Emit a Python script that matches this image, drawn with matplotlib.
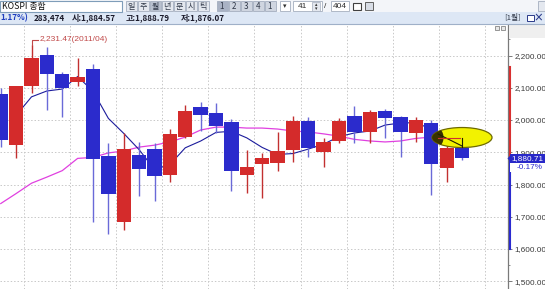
import matplotlib
matplotlib.use("Agg")
import matplotlib.pyplot as plt
import matplotlib.transforms as mtransforms
from matplotlib.patches import Rectangle, Ellipse, Polygon
from matplotlib.ticker import FuncFormatter, MultipleLocator
from matplotlib import font_manager
import numpy as np

# ---------------- data (KOSPI monthly candles, 2011/02 .. 2013/08) ----------------
months = ["2011/02", "2011/03", "2011/04", "2011/05", "2011/06", "2011/07", "2011/08",
          "2011/09", "2011/10", "2011/11", "2011/12", "2012/01", "2012/02", "2012/03",
          "2012/04", "2012/05", "2012/06", "2012/07", "2012/08", "2012/09", "2012/10",
          "2012/11", "2012/12", "2013/01", "2013/02", "2013/03", "2013/04", "2013/05",
          "2013/06", "2013/07", "2013/08"]
opens = [2081, 1922, 2106, 2201, 2143, 2118, 2158, 1888, 1685, 1892, 1910, 1830, 1947,
         2040, 2022, 1994, 1830, 1864, 1867, 1907, 1997, 1901, 1935, 2012, 1963, 2028,
         2009, 1960, 1991, 1851, 1913]
highs = [2098, 2107, 2231.47, 2227, 2149, 2192, 2174, 1929, 1959, 1932, 1929, 1972, 2046,
         2056, 2053, 2003, 1907, 1898, 1963, 2012, 2009, 1944, 2006, 2043, 2031, 2034,
         2012, 2009, 2000, 1938, 1975]
lows = [1915, 1882, 2084, 2031, 2009, 2105, 1684, 1647, 1658, 1764, 1749, 1808, 1945,
        1966, 1960, 1780, 1774, 1758, 1842, 1870, 1885, 1854, 1929, 1929, 1929, 1944,
        1885, 1932, 1767, 1809, 1876]
closes = [1939, 2107, 2192, 2142, 2100, 2133, 1880, 1770, 1909, 1848, 1826, 1956, 2029,
          2014, 1982, 1843, 1854, 1882, 1905, 1996, 1912, 1932, 1997, 1962, 2026, 2005,
          1964, 2001, 1863, 1914, 1880.71]
ma_short = [np.nan, 2014.4, 2071.8, 2090.0, 2096.0, 2134.8, 2089.4, 2005.0, 1958.4, 1908.0,
            1846.6, 1861.8, 1913.8, 1934.8, 1961.6, 1965.0, 1944.6, 1915.0, 1893.2, 1896.0,
            1909.8, 1925.4, 1948.4, 1959.8, 1965.8, 1984.4, 1990.8, 1991.6, 1971.8, 1949.4,
            1924.6]
ma_long = [1741, 1772, 1804, 1823, 1843, 1881, 1884, 1898, 1904, 1916, 1922, 1932, 1947,
           1969, 1978, 1978, 1975, 1975, 1972, 1966, 1963, 1957, 1950, 1940, 1935, 1932,
           1935, 1943, 1947, 1946, 1944]
y_ticks = [1500, 1600, 1700, 1800, 1900, 2000, 2100, 2200]
peak_label = "2,231.47(2011/04)"
last_price = 1880.71
last_change = "-0.17%"
range_top = 2165
range_bottom = 1600

header_code = "KOSPI 종합"
period_buttons = ["일", "주", "월", "년", "분", "시", "틱"]
number_buttons = ["1", "2", "3", "4", "1"]
info_change = "1.17%)"
info_volume = "283,474"
info_open = "시:1,884.57"
info_high = "고:1,888.79"
info_low = "저:1,876.07"
page_now = "41"
page_total = "404"

# ---------------- fonts ----------------
def pick(names):
    for nm in names:
        try:
            font_manager.findfont(font_manager.FontProperties(family=nm), fallback_to_default=False)
            return nm
        except Exception:
            pass
    return "DejaVu Sans"

NARROW = pick(["Liberation Sans Narrow", "Liberation Sans", "DejaVu Sans"])
KR = ["Noto Sans CJK KR", "DejaVu Sans"]
AX_FS = 5.9

# ---------------- figure ----------------
W, H = 545, 289
TOP, RIGHT = 24, 508
fig = plt.figure(figsize=(W / 100, H / 100), dpi=100)
fig.patch.set_facecolor("white")

ax = fig.add_axes([0, 0, RIGHT / W, (H - TOP) / H])
ax.set_facecolor("white")
n = len(closes)
idx = np.arange(n)
ax.set_xlim(-0.049, 32.99)
ax.set_ylim(1476, 2297.7)

# grid
ax.set_yticks(y_ticks)
ax.yaxis.set_minor_locator(MultipleLocator(50))
ax.set_xticks(np.arange(1.5, 32.6, 3))
ax.tick_params(axis="x", length=0, labelbottom=False)
ax.grid(True, which="major", color="#c8c8c8", linestyle=(0, (1.5, 2)), linewidth=0.7, zorder=0)
ax.set_axisbelow(True)

# right axis
ax.yaxis.tick_right()
for s in ["left", "top", "bottom"]:
    ax.spines[s].set_visible(False)
ax.spines["right"].set_color("#7a7a7a")
ax.spines["right"].set_linewidth(0.9)
ax.tick_params(axis="y", which="major", length=3, width=0.7, color="#7a7a7a", pad=1.5,
               labelsize=AX_FS, labelcolor="#3a3a3a")
ax.tick_params(axis="y", which="minor", length=1.5, width=0.6, color="#7a7a7a")
ax.yaxis.set_major_formatter(FuncFormatter(lambda v, _: f"{v:,.2f}"))
for lab in ax.get_yticklabels():
    lab.set_family(NARROW)

# moving averages (below candles)
ax.plot(idx, ma_long, color="#e040e0", linewidth=0.9, zorder=2)
ax.plot(idx, ma_short, color="#1c1c9c", linewidth=0.8, zorder=2)

# candles
o = np.array(opens, float)
c = np.array(closes, float)
hi = np.array(highs, float)
lo = np.array(lows, float)
up = c >= o
body_col = np.where(up, "#d42b2b", "#2b2bcc")
wick_col = np.where(up, "#c23030", "#6a6ad8")
ax.vlines(idx, lo, hi, colors=wick_col, linewidth=1.0, zorder=3)
ax.bar(idx, np.maximum(np.abs(c - o), 4), bottom=np.minimum(o, c), width=0.93,
       color=body_col, linewidth=0, zorder=4)

# peak annotation
ipk = int(np.argmax(hi))
ylab = hi[ipk] + 18
ax.plot([idx[ipk], idx[ipk], idx[ipk] + 0.45], [hi[ipk], ylab, ylab], color="#c04848",
        linewidth=0.8, zorder=5)
ax.text(idx[ipk] + 0.55, ylab, peak_label, color="#c04848", fontsize=6.0, family=NARROW,
        va="center", ha="left", zorder=5)

# yellow ellipse highlight on the last candle
last = n - 1
ell = Ellipse((idx[last], 1945.7), width=3.9, height=62, facecolor="#f2f200",
              edgecolor="#6e6a00", linewidth=0.9, zorder=10)
ax.add_patch(ell)
dark = Ellipse((idx[last] - 1.85, 1945.7), width=1.3, height=70, facecolor="#3a3300",
               edgecolor="none", zorder=10.5)
ax.add_patch(dark)
dark.set_clip_path(ell)
tri_x = [idx[last] - 1.56, idx[last], idx[last]]
tri_y = [1956.6, 1919.4, 1944.2]
ax.plot(tri_x[:2], tri_y[:2], color="#202000", linewidth=0.8, zorder=11)
ax.plot([tri_x[1], tri_x[2]], [1916.3, tri_y[2]], color="#202000", linewidth=0.8, zorder=11)
ax.plot([tri_x[0], idx[last] - 0.13], [tri_y[2], tri_y[2]], color="#d03030", linewidth=0.8,
        zorder=11)

# right-axis range bar and last-price tag
trans = mtransforms.blended_transform_factory(ax.transAxes, ax.transData)
px = 1.0 / RIGHT
ax.plot([1 + 1.5 * px] * 2, [range_top, last_price], color="#d83030", linewidth=1.5,
        transform=trans, clip_on=False, zorder=6)
ax.plot([1 + 1.5 * px] * 2, [last_price, range_bottom], color="#2a2ad0", linewidth=1.5,
        transform=trans, clip_on=False, zorder=6)
ax.add_patch(Rectangle((1 + 2 * px, last_price - 13.5), 40 * px, 27, transform=trans,
                       facecolor="#2828c8", edgecolor="none", clip_on=False, zorder=20))
ax.add_patch(Polygon([(1 - 0.5 * px, last_price), (1 + 2.5 * px, last_price + 10),
                      (1 + 2.5 * px, last_price - 10)], closed=True, transform=trans,
                     facecolor="#2828c8", edgecolor="none", clip_on=False, zorder=20))
ax.add_patch(Rectangle((1 + 2 * px, last_price - 41), 40 * px, 27, transform=trans,
                       facecolor="white", edgecolor="none", clip_on=False, zorder=19))
ax.text(1 + 3 * px, last_price, f"{last_price:,.2f}", transform=trans, color="white",
        fontsize=AX_FS, family=NARROW, va="center", ha="left", zorder=21, clip_on=False)
ax.text(1 + 35 * px, last_price - 27, last_change, transform=trans, color="#2a2ad0",
        fontsize=AX_FS, family=NARROW, va="center", ha="right", zorder=21, clip_on=False)

# ---------------- header / window chrome overlay ----------------
ov = fig.add_axes([0, 0, 1, 1], zorder=5)
ov.set_xlim(0, W)
ov.set_ylim(H, 0)
ov.axis("off")

ov.add_patch(Rectangle((0, 0), W, 12, facecolor="#f3f5f9", edgecolor="none"))
ov.add_patch(Rectangle((0, 12), W, 11.5, facecolor="#dde7f5", edgecolor="none"))
ov.plot([0, W], [23.6, 23.6], color="#9fb0c8", linewidth=0.8)
ov.add_patch(Rectangle((RIGHT + 0.6, 24), W - RIGHT, 14, facecolor="#efefef", edgecolor="none"))

# code box
ov.add_patch(Rectangle((0, 0.5), 122, 11, facecolor="white", edgecolor="#7f9db9", linewidth=0.8))
ov.text(2.5, 6.2, header_code, family=KR, fontsize=6.3, va="center", ha="left", color="#101010")

# period buttons
for i, lab in enumerate(period_buttons):
    cx = 131 + 12 * i
    fc = "#b8c0ce" if lab == "월" else "#e4e8ef"
    ov.add_patch(Rectangle((cx - 5.5, 0.8), 11, 10.5, facecolor=fc, edgecolor="#a4aebf",
                           linewidth=0.6))
    ov.text(cx, 6.2, lab, family=KR, fontsize=5.8, va="center", ha="center", color="#303848")
for i, lab in enumerate(number_buttons):
    cx = 222 + 12 * i
    fc = "#a9b2c4" if i == 0 else "#cfd5e0"
    ov.add_patch(Rectangle((cx - 5.5, 0.8), 11, 10.5, facecolor=fc, edgecolor="#a4aebf",
                           linewidth=0.6))
    ov.text(cx, 6.2, lab, family=KR, fontsize=5.8, va="center", ha="center", color="#303848")

# dropdown + spinner
ov.add_patch(Rectangle((280, 1), 10, 10, facecolor="white", edgecolor="#a4aebf", linewidth=0.6))
ov.text(285, 6.2, "▾", fontsize=5, va="center", ha="center", color="#303030")
ov.add_patch(Rectangle((293, 0.8), 29, 10.5, facecolor="white", edgecolor="#a4aebf", linewidth=0.6))
ov.text(302, 6.2, page_now, family=NARROW, fontsize=6, va="center", ha="center", color="#303030")
ov.add_patch(Rectangle((312, 1.5), 8, 9, facecolor="#e4e8ef", edgecolor="#a4aebf", linewidth=0.5))
ov.text(316, 4.3, "▴", fontsize=3.5, va="center", ha="center", color="#303030")
ov.text(316, 8.3, "▾", fontsize=3.5, va="center", ha="center", color="#303030")
ov.text(325, 6.2, "/", family=NARROW, fontsize=6, va="center", ha="center", color="#303030")
ov.add_patch(Rectangle((331, 0.8), 18, 10.5, facecolor="white", edgecolor="#a4aebf", linewidth=0.6))
ov.text(340, 6.2, page_total, family=NARROW, fontsize=6, va="center", ha="center", color="#303030")
ov.add_patch(Rectangle((353, 3), 8, 7, facecolor="white", edgecolor="#404040", linewidth=0.8))
ov.add_patch(Rectangle((365, 2), 8, 8, facecolor="#d8dde6", edgecolor="#606060", linewidth=0.7))
ov.add_patch(Rectangle((537.5, 1), 7, 10, facecolor="#e4e8ef", edgecolor="#a4aebf", linewidth=0.6))

# info row
ov.text(0, 17.8, info_change, family=KR, fontsize=5.8, fontweight="bold", va="center",
        ha="left", color="#1f3fbf")
ov.text(34, 17.8, info_volume, family=KR, fontsize=5.8, fontweight="bold", va="center",
        ha="left", color="#1a1a2a")
ov.text(72, 17.8, info_open, family=KR, fontsize=5.8, fontweight="bold", va="center",
        ha="left", color="#1a1a2a")
ov.text(126, 17.8, info_high, family=KR, fontsize=5.8, fontweight="bold", va="center",
        ha="left", color="#1a1a2a")
ov.text(181, 17.8, info_low, family=KR, fontsize=5.8, fontweight="bold", va="center",
        ha="left", color="#1a1a2a")
ov.text(504, 17.8, "[1월]", family=KR, fontsize=5.6, va="center", ha="left", color="#303848")
ov.add_patch(Rectangle((527, 14.5), 6.5, 6.5, facecolor="white", edgecolor="#2a3a8a", linewidth=0.7))
ov.text(538.5, 17.6, "×", family=KR, fontsize=7, va="center", ha="center", color="#2a3a8a",
        fontweight="bold")

# small pane icons
ov.add_patch(Rectangle((495, 26), 4, 4, facecolor="#e8e8e8", edgecolor="#707070", linewidth=0.5))
ov.add_patch(Rectangle((500.5, 26), 4, 4, facecolor="#e8e8e8", edgecolor="#707070", linewidth=0.5))

fig.savefig("out.png", dpi=100)
